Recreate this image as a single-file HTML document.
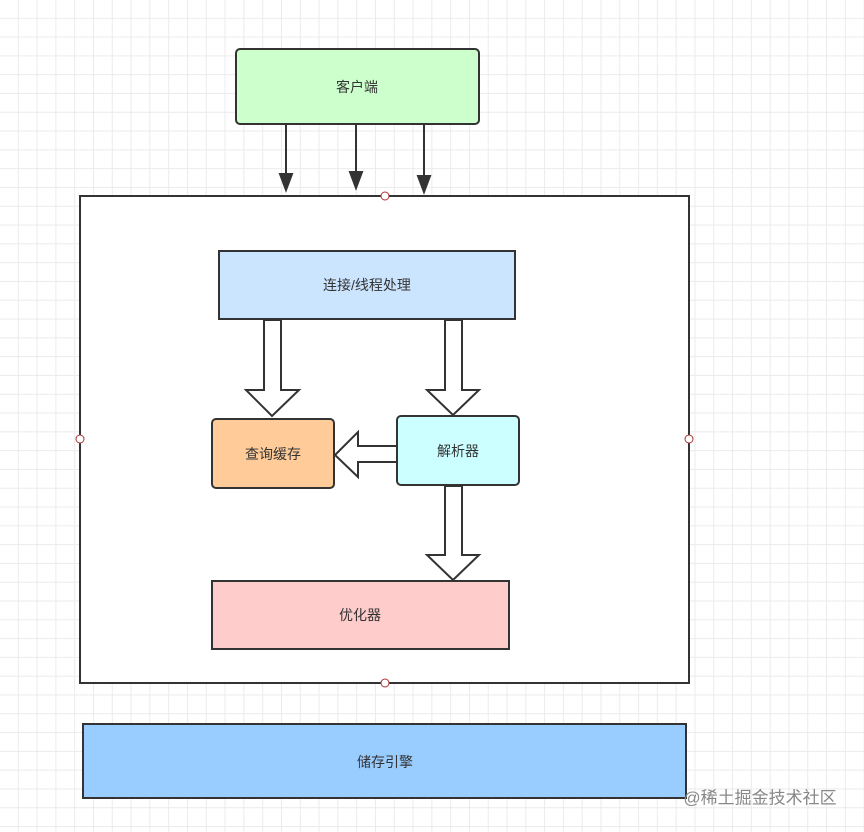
<!DOCTYPE html>
<html><head><meta charset="utf-8"><style>
html,body{margin:0;padding:0;}
body{width:864px;height:832px;overflow:hidden;background-color:#fff;
background-image:linear-gradient(#ebebeb 1px,transparent 1px),linear-gradient(90deg,#ebebeb 1px,transparent 1px);
background-size:18.8px 18.8px;background-position:-1px -1px;}
svg{position:absolute;left:0;top:0;}
text{font-family:"Liberation Sans","Noto Sans CJK SC",sans-serif;font-size:14px;fill:#333;text-anchor:middle;dominant-baseline:central;}
</style></head><body>
<svg width="864" height="832" viewBox="0 0 864 832">
<defs><marker id="ah" markerWidth="10" markerHeight="10" refX="8" refY="5" orient="auto" markerUnits="userSpaceOnUse"><path d="M0,0 L10,5 L0,10 Z" fill="#333"/></marker></defs>
<rect x="236" y="49" width="243" height="75" rx="4" fill="#ccffcc" stroke="#333" stroke-width="2"/>
<text x="357" y="87">客户端</text>
<g stroke="#333" stroke-width="2">
<line x1="286" y1="125" x2="286" y2="181"/><path d="M280,174 L292,174 L286,190 Z" fill="#333"/>
<line x1="356" y1="125" x2="356" y2="179"/><path d="M350,172 L362,172 L356,188 Z" fill="#333"/>
<line x1="424" y1="125" x2="424" y2="183"/><path d="M418,176 L430,176 L424,192 Z" fill="#333"/>
</g>
<rect x="80" y="196" width="609" height="487" fill="#fff" stroke="#333" stroke-width="2"/>
<g fill="#fff" stroke="#a33" stroke-width="1">
<circle cx="385" cy="196" r="4"/><circle cx="80" cy="439" r="4"/><circle cx="689" cy="439" r="4"/><circle cx="385" cy="683" r="4"/>
</g>
<rect x="219" y="251" width="296" height="68" fill="#cce5ff" stroke="#333" stroke-width="2"/>
<text x="367" y="285">连接/线程处理</text>
<g fill="#fff" stroke="#333" stroke-width="2" stroke-linejoin="miter">
<path d="M264,320 L281,320 L281,390 L299,390 L272,416 L246,390 L264,390 Z"/>
<path d="M445,320 L462,320 L462,390 L479,390 L453,415 L427,390 L445,390 Z"/>
<path d="M397,446 L358,446 L358,432 L335,455 L358,477 L358,462 L397,462 Z"/>
<path d="M445,486 L462,486 L462,555 L479,555 L453,580 L427,555 L445,555 Z"/>
</g>
<rect x="212" y="419" width="122" height="69" rx="4" fill="#ffcc99" stroke="#333" stroke-width="2"/>
<text x="273" y="454">查询缓存</text>
<rect x="397" y="416" width="122" height="69" rx="4" fill="#ccffff" stroke="#333" stroke-width="2"/>
<text x="458" y="451">解析器</text>
<rect x="212" y="581" width="297" height="68" fill="#ffcccc" stroke="#333" stroke-width="2"/>
<text x="360" y="615">优化器</text>
<rect x="83" y="724" width="603" height="74" fill="#99ccff" stroke="#333" stroke-width="2"/>
<text x="385" y="762">储存引擎</text>
<text x="760" y="798" style="font-size:17px;fill:#888">@稀土掘金技术社区</text>
</svg>
</body></html>
